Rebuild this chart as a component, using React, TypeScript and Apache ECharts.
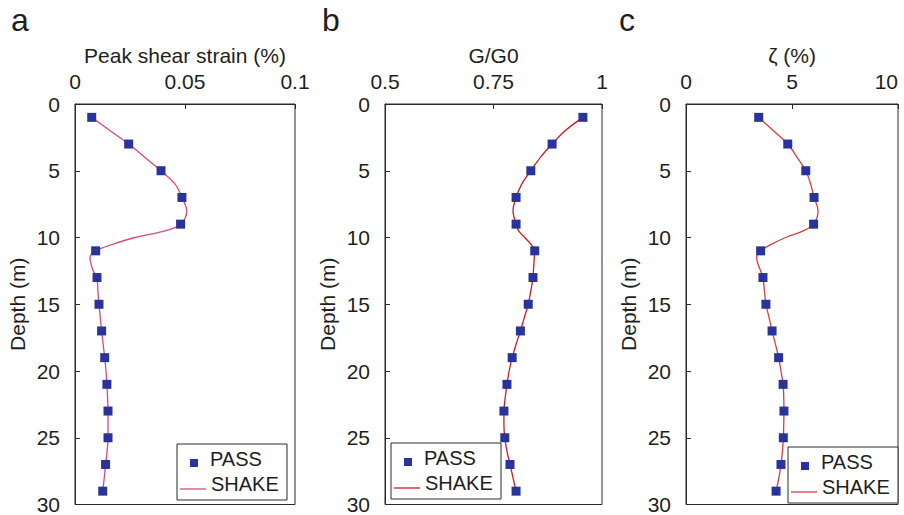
import React, { useEffect, useRef } from "react";
import * as echarts from "echarts";

// PASS results (markers)
const depthPass = [1, 3, 5, 7, 9, 11, 13, 15, 17, 19, 21, 23, 25, 27, 29];
const strainPass = [0.0076, 0.0244, 0.0391, 0.0486, 0.048, 0.0094, 0.01, 0.0109, 0.0121, 0.0135, 0.0145, 0.015, 0.015, 0.0139, 0.0126];
const ggoPass = [0.956, 0.885, 0.836, 0.802, 0.802, 0.845, 0.841, 0.83, 0.812, 0.793, 0.781, 0.774, 0.776, 0.788, 0.802];
const dampPass = [3.43, 4.8, 5.65, 6.04, 6.02, 3.52, 3.63, 3.77, 4.06, 4.37, 4.58, 4.62, 4.59, 4.48, 4.25];

// SHAKE results (line)
const depthShake = [1, 2, 3, 4, 5, 6, 7, 8, 9, 9.5, 10, 10.5, 11, 11.5, 12, 12.5, 13, 14, 15, 16, 17, 18, 19, 20, 21, 22, 23, 24, 25, 26, 27, 28, 29];
const strainShake = [0.0076, 0.016, 0.0244, 0.0318, 0.0391, 0.0455, 0.0486, 0.0508, 0.048, 0.0409, 0.0273, 0.0174, 0.0094, 0.0068, 0.0073, 0.0083, 0.01, 0.0104, 0.0109, 0.0115, 0.0121, 0.0128, 0.0135, 0.0141, 0.0145, 0.0148, 0.015, 0.015, 0.015, 0.0146, 0.0139, 0.0133, 0.0126];
const ggoShake = [0.956, 0.915, 0.885, 0.858, 0.836, 0.815, 0.802, 0.795, 0.802, 0.808, 0.822, 0.836, 0.845, 0.844, 0.843, 0.842, 0.841, 0.836, 0.83, 0.821, 0.812, 0.802, 0.793, 0.786, 0.781, 0.777, 0.774, 0.774, 0.776, 0.781, 0.788, 0.795, 0.802];
const dampShake = [3.43, 4.12, 4.8, 5.24, 5.65, 5.88, 6.04, 6.23, 6.02, 5.53, 4.7, 4.04, 3.52, 3.33, 3.4, 3.52, 3.63, 3.7, 3.77, 3.92, 4.06, 4.22, 4.37, 4.48, 4.58, 4.61, 4.62, 4.61, 4.59, 4.55, 4.48, 4.38, 4.25];

const panelLetters = ["a", "b", "c"];
const xTitles = ["Peak shear strain (%)", "G/G0", "ζ (%)"];
const xMins = [0, 0.5, 0];
const xMaxs = [0.1, 1, 10];
const xIntervals = [0.05, 0.25, 5];
const depthTitle = "Depth (m)";
const depthMin = 0;
const depthMax = 30;
const depthInterval = 5;
const legendNames = ["PASS", "SHAKE"];

export default function App() {
  const ref = useRef<HTMLDivElement>(null);
  useEffect(() => {
    if (!ref.current) return;
    const chart = echarts.init(ref.current, null, { renderer: "svg" });
    const font = '"Liberation Sans", Arial, Helvetica, sans-serif';
    const ink = "#1e1e1e";
    const frame = "#2a2a2a";
    const markerColor = "#29339a";
    const lineColors = ["#d64a7e", "#cc1b24", "#cf4046"];
    const grids = [
      { left: 75, top: 104, width: 220, height: 401 },
      { left: 385, top: 104, width: 217, height: 401 },
      { left: 686, top: 104, width: 212, height: 401 },
    ];
    const passVals = [strainPass, ggoPass, dampPass];
    const shakeVals = [strainShake, ggoShake, dampShake];
    const letterX = [11, 322, 619];
    const legendBoxes = [
      [177, 444],
      [391, 443],
      [788, 447],
    ];

    const xAxis = grids.map((_, i) => ({
      type: "value",
      gridIndex: i,
      position: "top",
      min: xMins[i],
      max: xMaxs[i],
      interval: xIntervals[i],
      axisLine: { show: true, lineStyle: { color: frame, width: 1 } },
      axisTick: { show: true, inside: true, length: 5, lineStyle: { color: frame } },
      axisLabel: {
        fontSize: 21,
        color: ink,
        fontFamily: font,
        margin: 12,
        alignMaxLabel: i === 2 ? "right" : undefined,
      },
      splitLine: { show: false },
      name: xTitles[i],
      nameLocation: "middle",
      nameGap: 37,
      nameTextStyle: { fontSize: 21, color: ink, fontFamily: font },
    }));

    const yAxis = grids.map((_, i) => ({
      type: "value",
      gridIndex: i,
      inverse: true,
      min: depthMin,
      max: depthMax,
      interval: depthInterval,
      axisLine: { show: true, lineStyle: { color: frame, width: 1 } },
      axisTick: { show: true, inside: true, length: 5, lineStyle: { color: frame } },
      axisLabel: { fontSize: 21, color: ink, fontFamily: font, margin: 15 },
      splitLine: { show: false },
      name: depthTitle,
      nameLocation: "middle",
      nameRotate: 90,
      nameGap: 47,
      nameTextStyle: { fontSize: 21, color: ink, fontFamily: font },
    }));

    const series: any[] = [];
    grids.forEach((_, i) => {
      series.push({
        type: "line",
        name: legendNames[1],
        xAxisIndex: i,
        yAxisIndex: i,
        data: depthShake.map((d, k) => [shakeVals[i][k], d]),
        smooth: 0.35,
        showSymbol: false,
        symbol: "none",
        lineStyle: { color: lineColors[i], width: 1.3 },
        z: 2,
      });
      series.push({
        type: "scatter",
        name: legendNames[0],
        xAxisIndex: i,
        yAxisIndex: i,
        data: depthPass.map((d, k) => [passVals[i][k], d]),
        symbol: "rect",
        symbolSize: 9,
        itemStyle: { color: markerColor, opacity: 1 },
        z: 3,
      });
    });

    const graphics: any[] = [];
    panelLetters.forEach((l, i) => {
      graphics.push({
        type: "text",
        x: letterX[i],
        y: 20,
        style: { text: l, fontSize: 32, fontFamily: font, fill: ink, verticalAlign: "middle", align: "left" },
      });
    });
    legendBoxes.forEach(([bx, by], i) => {
      graphics.push({
        type: "group",
        x: bx,
        y: by,
        children: [
          { type: "rect", shape: { x: 0, y: 0, width: 110, height: 56 }, style: { fill: "#fff", stroke: frame, lineWidth: 1 } },
          { type: "rect", shape: { x: 13, y: 15, width: 8, height: 8 }, style: { fill: markerColor } },
          { type: "text", x: 33, y: 15, style: { text: legendNames[0], fontSize: 20, fontFamily: font, fill: ink, verticalAlign: "middle" } },
          { type: "line", shape: { x1: 3, y1: 45, x2: 29, y2: 45 }, style: { stroke: lineColors[i], lineWidth: 1.3 } },
          { type: "text", x: 34, y: 40, style: { text: legendNames[1], fontSize: 20, fontFamily: font, fill: ink, verticalAlign: "middle" } },
        ],
      });
    });

    chart.setOption({
      animation: false,
      backgroundColor: "#fff",
      grid: grids.map((g) => ({ ...g, show: true, borderColor: frame, borderWidth: 1, backgroundColor: "transparent" })),
      xAxis,
      yAxis,
      series,
      graphic: graphics,
    });
    return () => chart.dispose();
  }, []);
  return (
    <div
      ref={ref}
      style={{ position: "fixed", left: 0, top: 0, width: 904, height: 515, background: "#fff" }}
    />
  );
}
